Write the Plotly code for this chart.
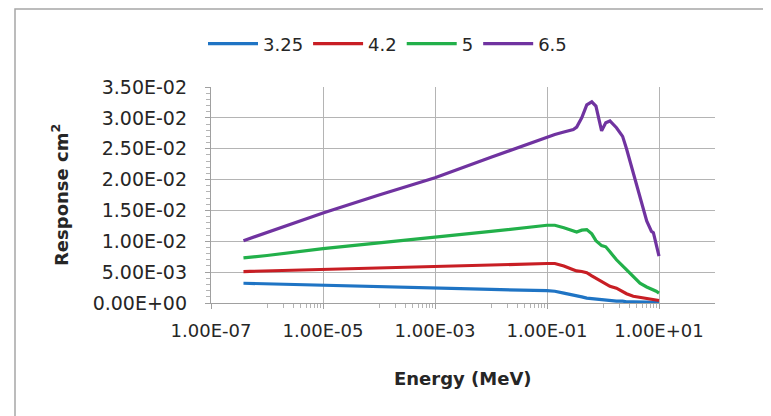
import plotly.graph_objects as go

# Energy grid (MeV)
energy = [3.8e-7, 1e-6, 1e-5, 1e-4, 1e-3, 1e-2, 1e-1, 0.138, 0.2, 0.295, 0.339,
          0.417, 0.513, 0.631, 0.748, 0.944, 1.12, 1.33, 1.74, 2.24, 2.63, 3.47,
          4.57, 6.03, 7.33, 7.94, 8.91, 10.0]

resp_325 = [0.0032, 0.0031, 0.0028, 0.0026, 0.00243, 0.0022, 0.0020, 0.0019, 0.0016,
            0.00135, 0.0012, 0.0010, 0.0008, 0.0007, 0.0006, 0.0005, 0.0004, 0.0004,
            0.0003, 0.0003, 0.0002, 0.0002, 0.0002, 0.0001, 0.0001, 0.0001, 0.0001, 0.0001]
resp_42 = [0.0051, 0.0052, 0.0055, 0.0058, 0.0060, 0.0062, 0.0064, 0.0064, 0.0060,
           0.0054, 0.0052, 0.0051, 0.0049, 0.0044, 0.0040, 0.0035, 0.0031, 0.0027,
           0.0024, 0.0019, 0.0015, 0.0011, 0.0009, 0.0007, 0.0006, 0.0006, 0.0005, 0.0004]
resp_5 = [0.0073, 0.0077, 0.0088, 0.0097, 0.01064, 0.0116, 0.0126, 0.0126, 0.0122,
          0.0116, 0.0115, 0.0118, 0.0119, 0.0112, 0.0101, 0.0093, 0.0091, 0.0083,
          0.0070, 0.0060, 0.0054, 0.0042, 0.0032, 0.0026, 0.0023, 0.0021, 0.0019, 0.0016]
resp_65 = [0.0101, 0.0114, 0.0146, 0.0175, 0.0203, 0.0236, 0.0269, 0.0273, 0.0277,
           0.0281, 0.0285, 0.0300, 0.0321, 0.0326, 0.0319, 0.0279, 0.0292, 0.0295,
           0.0284, 0.0270, 0.0250, 0.0210, 0.0175, 0.0133, 0.0116, 0.0114, 0.0095, 0.0076]

series_names = ["3.25", "4.2", "5", "6.5"]
series_vals = [resp_325, resp_42, resp_5, resp_65]
colors = ["#1F74C4", "#C81E24", "#22B04A", "#7033A0"]

x_tickvals = [1e-7, 1e-5, 1e-3, 1e-1, 1e1]
x_ticktext = ["1.00E-07", "1.00E-05", "1.00E-03", "1.00E-01", "1.00E+01"]
y_tickvals = [0, 0.005, 0.01, 0.015, 0.02, 0.025, 0.03, 0.035]
y_ticktext = ["0.00E+00", "5.00E-03", "1.00E-02", "1.50E-02", "2.00E-02",
              "2.50E-02", "3.00E-02", "3.50E-02"]

FONT = "DejaVu Sans, Verdana, sans-serif"
TXT = "#262626"

fig = go.Figure()
for name, vals, col in zip(series_names, series_vals, colors):
    fig.add_trace(go.Scatter(x=energy, y=vals, mode="lines", name=name,
                             line=dict(color=col, width=3.2)))

minor_x = [m * 10.0 ** k for k in (-6, -4, -2, 0) for m in range(1, 10)]

fig.update_layout(
    width=771, height=416,
    margin=dict(l=203, r=64, t=79, b=121),
    paper_bgcolor="white", plot_bgcolor="white",
    font=dict(family=FONT, color=TXT),
    showlegend=True,
    legend=dict(orientation="h", x=(195 - 203) / 504, y=(295 - 36) / 216,
                xanchor="left", yanchor="middle", itemwidth=50,
                font=dict(size=18, color=TXT), bgcolor="rgba(0,0,0,0)"),
    xaxis=dict(type="log", range=[-7, 2], tickmode="array", tickvals=x_tickvals,
               ticktext=x_ticktext, showgrid=True, gridcolor="#b4b4b4", gridwidth=1.3,
               showline=True, linecolor="#a0a0a0", linewidth=1.3,
               ticks="outside", ticklen=5, tickcolor="#a0a0a0",
               tickfont=dict(size=18, color=TXT), zeroline=False,
               ticklabelstandoff=6,
               minor=dict(tickvals=minor_x, ticks="outside", ticklen=4,
                          tickcolor="#b4b4b4", showgrid=False)),
    yaxis=dict(range=[0, 0.035], tickmode="array", tickvals=y_tickvals,
               ticktext=y_ticktext, showgrid=True, gridcolor="#b4b4b4", gridwidth=1.3,
               showline=True, linecolor="#a0a0a0", linewidth=1.3,
               ticks="outside", ticklen=5, tickcolor="#a0a0a0",
               tickfont=dict(size=19, color=TXT), zeroline=False,
               ticklabelstandoff=14,
               minor=dict(dtick=0.001, ticks="outside", ticklen=4,
                          tickcolor="#b4b4b4", showgrid=False)),
)

# Axis titles
fig.add_annotation(text="<b>Energy (MeV)</b>", xref="paper", yref="paper",
                   x=0.5, y=(295 - 370) / 216, xanchor="center", yanchor="middle",
                   showarrow=False, font=dict(size=18, color=TXT))
fig.add_annotation(text="<b>Response cm<sup>2</sup></b>", xref="paper", yref="paper",
                   x=(52 - 203) / 504, y=0.5, xanchor="center", yanchor="middle",
                   textangle=-90, showarrow=False, font=dict(size=18, color=TXT))

# Chart border
fig.add_shape(type="rect", xref="paper", yref="paper",
              x0=(7 - 203) / 504, x1=(790 - 203) / 504,
              y0=(295 - 414) / 216, y1=(295 - 1) / 216,
              line=dict(color="#a6a6a6", width=1.5), fillcolor="rgba(0,0,0,0)",
              layer="below")

fig.write_html("out.html")
